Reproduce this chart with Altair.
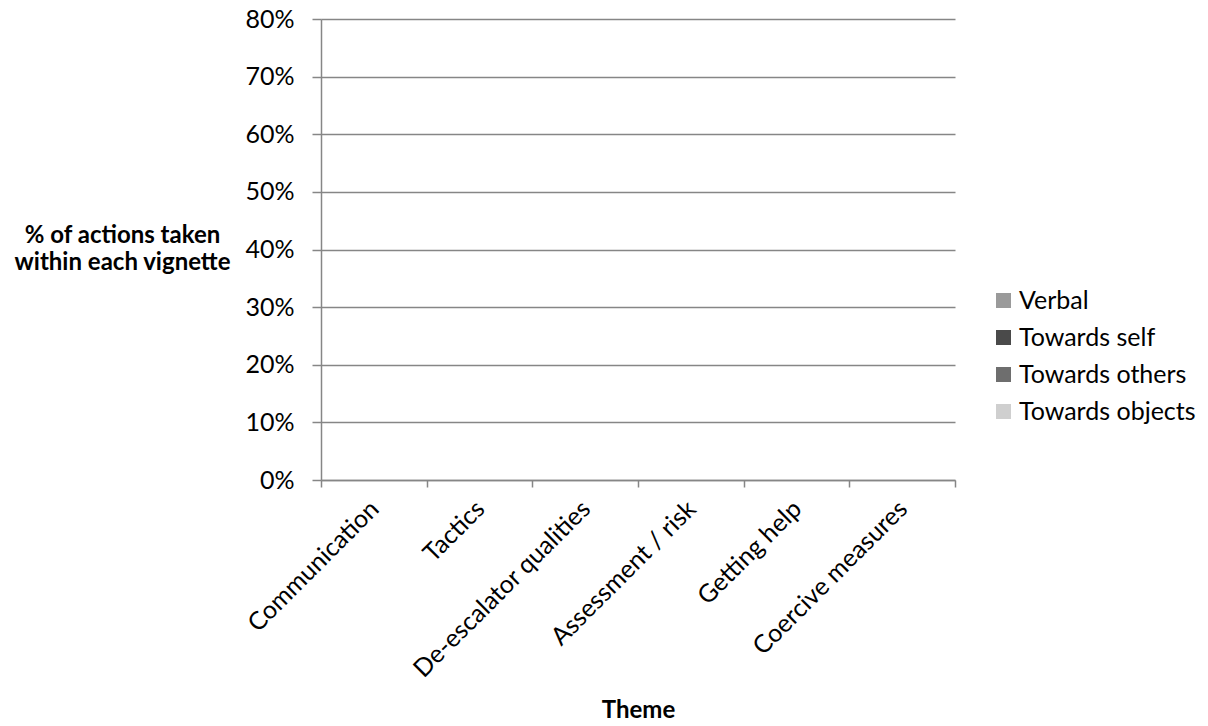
import altair as alt
import pandas as pd

categories = ["Communication", "Tactics", "De-escalator qualities", "Assessment / risk", "Getting help", "Coercive measures"]
series = ["Verbal", "Towards self", "Towards others", "Towards objects"]
verbal = [0, 0, 0, 0, 0, 0]
towards_self = [0, 0, 0, 0, 0, 0]
towards_others = [0, 0, 0, 0, 0, 0]
towards_objects = [0, 0, 0, 0, 0, 0]
series_colors = ["#9a9a9a", "#4a4a4a", "#6e6e6e", "#cfcfcf"]

rows = []
for s, vals in zip(series, [verbal, towards_self, towards_others, towards_objects]):
    for c, v in zip(categories, vals):
        rows.append({"Theme": c, "Series": s, "Value": v})
df = pd.DataFrame(rows)

FONT = "Lato"
FS = 25
GRID = "#868686"

chart = alt.Chart(df).mark_bar().encode(
    x=alt.X("Theme:N", sort=categories,
            scale=alt.Scale(paddingInner=0, paddingOuter=0),
            axis=alt.Axis(title="Theme", titleFont=FONT, titleFontSize=24, titleFontWeight="bold",
                          titleColor="#000", titleY=237, titleBaseline="alphabetic",
                          labelAngle=-45, labelAlign="right", labelBaseline="top",
                          labelFont=FONT, labelFontSize=FS, labelColor="#000", labelPadding=9,
                          labelOffset=-8,
                          labelLimit=0, labelOverlap=False,
                          tickBand="extent", tickSize=7, tickColor=GRID, tickWidth=1.5,
                          domainColor=GRID, domainWidth=1.5, grid=False)),
    xOffset=alt.XOffset("Series:N", sort=series, scale=alt.Scale(paddingInner=0, paddingOuter=0.2)),
    y=alt.Y("Value:Q",
            scale=alt.Scale(domain=[0, 0.8], nice=False),
            axis=alt.Axis(title=["% of actions taken", "within each vignette"], format=".0%",
                          values=[0, 0.1, 0.2, 0.3, 0.4, 0.5, 0.6, 0.7, 0.8],
                          titleAngle=0, titleAlign="center", titleBaseline="alphabetic",
                          titleX=-199, titleY=223, titleFont=FONT, titleFontSize=24,
                          titleFontWeight="bold", titleColor="#000", titleLineHeight=27,
                          labelFont=FONT, labelFontSize=FS, labelColor="#000", labelPadding=18,
                          labelOverlap=False,
                          tickSize=9, tickColor=GRID, tickWidth=1.5,
                          domainColor=GRID, domainWidth=1.5,
                          gridColor=GRID, gridWidth=1.5)),
    color=alt.Color("Series:N", sort=series,
                    scale=alt.Scale(domain=series, range=series_colors),
                    legend=alt.Legend(title=None, orient="none", legendX=670, legendY=269,
                                      symbolType="square", symbolSize=225, symbolStrokeWidth=0,
                                      labelFont=FONT, labelFontSize=FS, labelColor="#000",
                                      labelLimit=0, rowPadding=11, labelOffset=3)),
).properties(
    width=634, height=461,
    autosize=alt.AutoSizeParams(type="none"),
    padding={"left": 321, "top": 19, "right": 253, "bottom": 246},
).configure_view(stroke=None)

chart.save("out.html", embed_options={"renderer": "svg", "actions": False})
